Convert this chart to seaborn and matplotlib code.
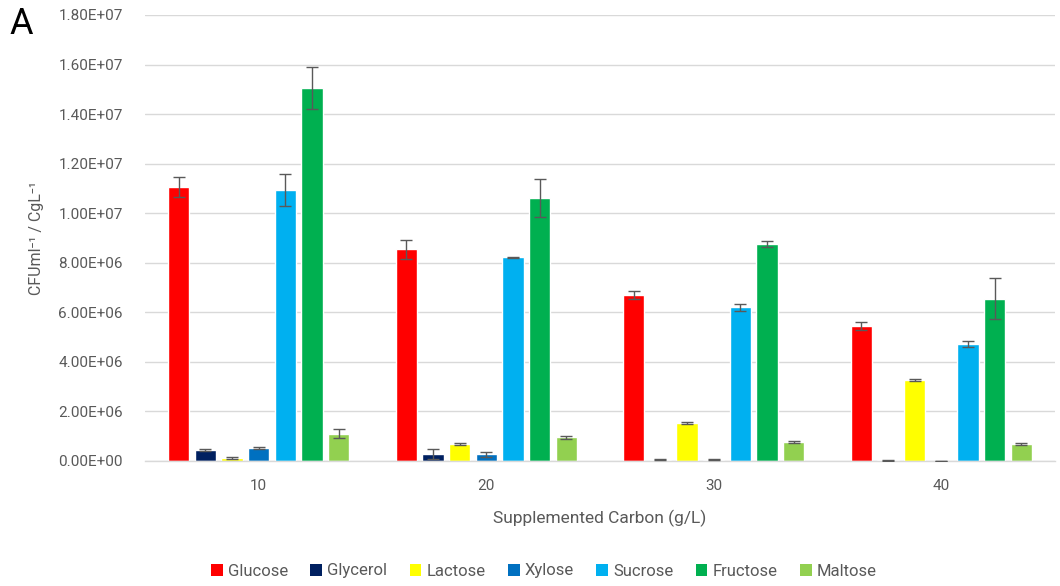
import numpy as np
import pandas as pd
import matplotlib
matplotlib.use("Agg")
import matplotlib.pyplot as plt
import seaborn as sns
from matplotlib.ticker import FuncFormatter, MultipleLocator
from matplotlib.patches import Patch

concentrations = ["10", "20", "30", "40"]
carbon_sources = ["Glucose", "Glycerol", "Lactose", "Xylose", "Sucrose", "Fructose", "Maltose"]

# mean CFU per ml per g/L of carbon, one list per carbon source (10, 20, 30, 40 g/L)
glucose = [11.05e6, 8.55e6, 6.70e6, 5.45e6]
glycerol = [0.45e6, 0.30e6, 0.05e6, 0.03e6]
lactose = [0.13e6, 0.68e6, 1.53e6, 3.26e6]
xylose = [0.53e6, 0.27e6, 0.05e6, 0.00e6]
sucrose = [10.93e6, 8.22e6, 6.20e6, 4.72e6]
fructose = [15.05e6, 10.60e6, 8.75e6, 6.55e6]
maltose = [1.10e6, 0.95e6, 0.76e6, 0.68e6]

# standard deviations
glucose_sd = [0.40e6, 0.38e6, 0.17e6, 0.16e6]
glycerol_sd = [0.05e6, 0.20e6, 0.02e6, 0.02e6]
lactose_sd = [0.03e6, 0.03e6, 0.03e6, 0.03e6]
xylose_sd = [0.03e6, 0.10e6, 0.02e6, 0.01e6]
sucrose_sd = [0.65e6, 0.03e6, 0.15e6, 0.13e6]
fructose_sd = [0.85e6, 0.77e6, 0.13e6, 0.82e6]
maltose_sd = [0.18e6, 0.05e6, 0.05e6, 0.03e6]

colors = ["#FF0000", "#002060", "#FFFF00", "#0070C0", "#00B0F0", "#00B050", "#92D050"]

means = [glucose, glycerol, lactose, xylose, sucrose, fructose, maltose]
sds = [glucose_sd, glycerol_sd, lactose_sd, xylose_sd, sucrose_sd, fructose_sd, maltose_sd]

rows = []
for src, m, s in zip(carbon_sources, means, sds):
    for c, v, e in zip(concentrations, m, s):
        rows.append({"Carbon": c, "Source": src, "CFU": v, "SD": e})
df = pd.DataFrame(rows)

sns.set_theme(style="white")
plt.rcParams["font.family"] = ["Roboto", "DejaVu Sans"]

fig = plt.figure(figsize=(10.6, 5.86), dpi=100)
ax = fig.add_axes([145 / 1060, 125 / 586, 910 / 1060, 446 / 586])

sns.barplot(data=df, x="Carbon", y="CFU", hue="Source", order=concentrations,
            hue_order=carbon_sources, palette=colors, errorbar=None,
            width=0.82, gap=0.2, saturation=1, legend=False, ax=ax)

# error bars placed at the centre of each drawn bar
for src, container in zip(carbon_sources, ax.containers):
    sub = df[df["Source"] == src].set_index("Carbon").loc[concentrations]
    xs = [p.get_x() + p.get_width() / 2 for p in container.patches]
    ax.errorbar(xs, sub["CFU"].values, yerr=sub["SD"].values, fmt="none",
                ecolor="#595959", elinewidth=1.0, capsize=4, capthick=1.0, zorder=5)

ax.set_ylim(0, 1.8e7)
ax.set_xlim(-0.5, 3.5)
ax.yaxis.set_major_locator(MultipleLocator(2e6))
ax.yaxis.set_major_formatter(FuncFormatter(lambda v, p: f"{v:.2E}"))
ax.grid(axis="y", color="#D9D9D9", linewidth=1.0)
ax.set_axisbelow(True)
for side in ["top", "right", "left"]:
    ax.spines[side].set_visible(False)
ax.spines["bottom"].set_color("#D9D9D9")
ax.spines["bottom"].set_linewidth(1.0)

ax.tick_params(axis="both", colors="#595959", labelsize=11, length=0)
ax.tick_params(axis="y", pad=16)
ax.tick_params(axis="x", pad=13)

ax.set_xlabel("Supplemented Carbon (g/L)", fontsize=12.5, color="#595959", labelpad=12)
ax.set_ylabel("CFUml\u207b\u00b9 / CgL\u207b\u00b9", fontsize=11.5, color="#595959", labelpad=10)

handles = [Patch(facecolor=c, edgecolor="none") for c in colors]
fig.legend(handles, carbon_sources, loc="center", bbox_to_anchor=(0.513, 15 / 586),
           ncol=7, frameon=False, fontsize=12, handlelength=0.7, handleheight=0.7,
           handletextpad=0.3, columnspacing=1.35, labelcolor="#595959")

fig.text(9 / 1060, 1 - 24 / 586, "A", fontsize=26, color="black", va="center", ha="left")

fig.savefig("out.png", dpi=100, facecolor="white")
